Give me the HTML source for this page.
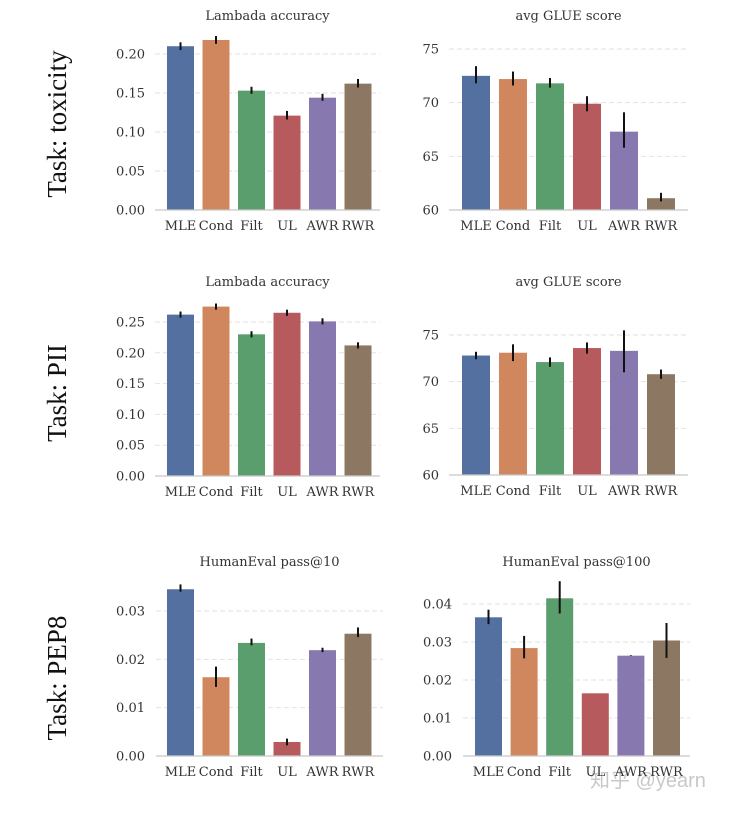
<!DOCTYPE html>
<html><head><meta charset="utf-8"><style>
html,body{margin:0;padding:0;background:#fff;}
svg text{font-family:"DejaVu Serif","Liberation Serif",serif;fill:#333;}
</style></head><body>
<svg id="chart" width="737" height="813" viewBox="0 0 737 813" xmlns="http://www.w3.org/2000/svg">
<text transform="translate(66,124) rotate(-90)" text-anchor="middle" style="font-family:'Liberation Serif',serif;font-size:27px;fill:#111">Task: toxicity</text>
<text transform="translate(66,393) rotate(-90)" text-anchor="middle" style="font-family:'Liberation Serif',serif;font-size:27px;fill:#111">Task: PII</text>
<text transform="translate(66,678) rotate(-90)" text-anchor="middle" style="font-family:'Liberation Serif',serif;font-size:27px;fill:#111">Task: PEP8</text>
<text x="590" y="787" style="font-family:'Liberation Sans','Noto Sans CJK SC',sans-serif;font-size:20px;fill:#bbb;opacity:0.8">知乎 @yearn</text>
</svg>
<script>
const categories = ["MLE","Cond","Filt","UL","AWR","RWR"];
const colors = ["#5470a0","#d0875e","#5a9e6e","#b75a5e","#8779b0","#8c7862"];

const p1Vals = [0.210,0.218,0.153,0.121,0.144,0.162];
const p1Lo = [0.205,0.213,0.149,0.116,0.140,0.157];
const p1Hi = [0.215,0.223,0.158,0.127,0.149,0.168];
const p1Ticks = ["0.00","0.05","0.10","0.15","0.20"];

const p2Vals = [72.5,72.2,71.8,69.9,67.3,61.1];
const p2Lo = [71.8,71.6,71.4,69.2,65.8,60.8];
const p2Hi = [73.4,72.9,72.3,70.6,69.1,61.6];
const p2Ticks = ["60","65","70","75"];

const p3Vals = [0.262,0.275,0.230,0.265,0.251,0.212];
const p3Lo = [0.257,0.270,0.225,0.260,0.246,0.207];
const p3Hi = [0.267,0.280,0.235,0.270,0.256,0.217];
const p3Ticks = ["0.00","0.05","0.10","0.15","0.20","0.25"];

const p4Vals = [72.8,73.1,72.1,73.6,73.3,70.8];
const p4Lo = [72.4,72.2,71.6,73.0,71.0,70.3];
const p4Hi = [73.2,74.0,72.6,74.2,75.5,71.3];
const p4Ticks = ["60","65","70","75"];

const p5Vals = [0.0345,0.0163,0.0234,0.0029,0.0219,0.0253];
const p5Lo = [0.0340,0.0143,0.0229,0.0022,0.0215,0.0246];
const p5Hi = [0.0355,0.0185,0.0243,0.0036,0.0224,0.0266];
const p5Ticks = ["0.00","0.01","0.02","0.03"];

const p6Vals = [0.0365,0.0284,0.0415,0.0165,0.0264,0.0304];
const p6Lo = [0.0347,0.0257,0.0375,0.0165,0.0263,0.0258];
const p6Hi = [0.0385,0.0316,0.0460,0.0165,0.0265,0.0350];
const p6Ticks = ["0.00","0.01","0.02","0.03","0.04"];

const NS = "http://www.w3.org/2000/svg";
const svg = document.getElementById("chart");
function mk(tag, attrs){const e=document.createElementNS(NS,tag);for(const k in attrs)e.setAttribute(k,attrs[k]);svg.appendChild(e);return e;}

function panel(id, title, cfg, vals, lo, hi, ticks){
  const y = v => cfg.base - (v - cfg.vmin) / (cfg.vref - cfg.vmin) * (cfg.base - cfg.yref);
  const xc = i => cfg.first + i*cfg.step + cfg.bw/2;
  const t = mk("text",{x:(cfg.x0+cfg.x1)/2,y:cfg.ty,"text-anchor":"middle","font-size":"13"});
  t.textContent = title;
  
  
  ticks.forEach(tk=>{
    const v = parseFloat(tk); const yy = y(v);
    if (v !== cfg.vmin){
      const g = mk("line",{x1:cfg.x0,x2:cfg.x1,y1:yy,y2:yy,stroke:"#e2e2e2","stroke-width":"1","stroke-dasharray":"5,3"});
      
      
    }
    const l = mk("text",{x:cfg.lx,y:yy+4.5,"text-anchor":"end","font-size":"13"});
    l.textContent = tk;
    
    
  });
  vals.forEach((v,i)=>{
    const r = mk("rect",{x:cfg.first+i*cfg.step,y:y(v),width:cfg.bw,height:cfg.base-y(v),fill:colors[i]});
    
    
    const e = mk("line",{x1:xc(i),x2:xc(i),y1:y(lo[i]),y2:y(hi[i]),stroke:"#111","stroke-width":"2"});
    
    
    const c = mk("text",{x:xc(i),y:cfg.base+20,"text-anchor":"middle","font-size":"13"});
    c.textContent = categories[i];
    
    
  });
  const a = mk("line",{x1:cfg.x0,x2:cfg.x1,y1:cfg.base,y2:cfg.base,stroke:"#c8c8c8","stroke-width":"1.2"});
  
  
}

panel("toxicity-lambda","Lambada accuracy",{x0:155,x1:380,lx:145,base:210,vmin:0,vref:0.20,yref:54,first:167,step:35.5,bw:27,ty:20},p1Vals,p1Lo,p1Hi,p1Ticks);
panel("toxicity-glue","avg GLUE score",{x0:449,x1:688,lx:439,base:210,vmin:60,vref:75,yref:49,first:462,step:37,bw:28,ty:20},p2Vals,p2Lo,p2Hi,p2Ticks);
panel("pii-lambda","Lambada accuracy",{x0:155,x1:380,lx:145,base:476,vmin:0,vref:0.25,yref:322,first:167,step:35.5,bw:27,ty:286},p3Vals,p3Lo,p3Hi,p3Ticks);
panel("pii-glue","avg GLUE score",{x0:449,x1:688,lx:439,base:475,vmin:60,vref:75,yref:335,first:462,step:37,bw:28,ty:286},p4Vals,p4Lo,p4Hi,p4Ticks);
panel("pep8-pass10","HumanEval pass@10",{x0:156,x1:383,lx:145,base:756,vmin:0,vref:0.03,yref:611,first:167,step:35.5,bw:27,ty:566},p5Vals,p5Lo,p5Hi,p5Ticks);
panel("pep8-pass100","HumanEval pass@100",{x0:463,x1:690,lx:452,base:756,vmin:0,vref:0.04,yref:604,first:475,step:35.6,bw:27,ty:566},p6Vals,p6Lo,p6Hi,p6Ticks);
</script>
</body></html>
